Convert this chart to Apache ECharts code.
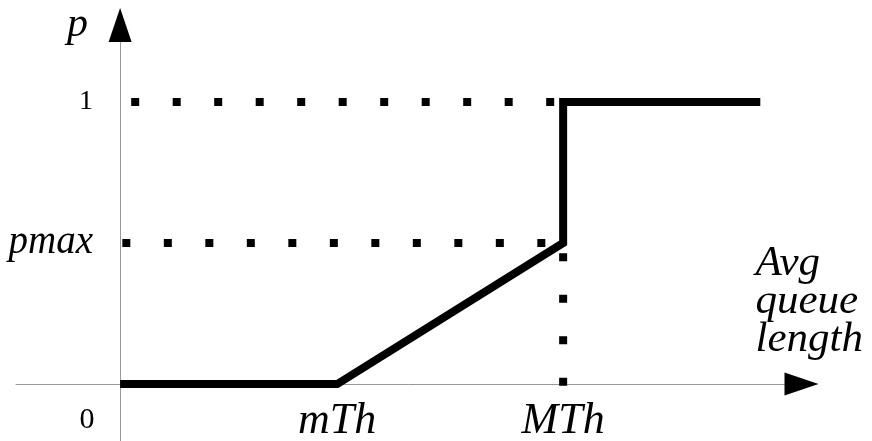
<!DOCTYPE html>
<html>
<head>
<meta charset="utf-8">
<script src="https://cdn.jsdelivr.net/npm/echarts@6/dist/echarts.min.js"></script>
<style>
  html, body { margin: 0; padding: 0; background: #fff; }
  #chart { width: 872px; height: 441px; }
</style>
</head>
<body>
<div id="chart"></div>
<script>
// drop probability vs. average queue length
const mTh = 4.9;
const MTh = 10;
const qEnd = 14.45;
const pMax = 0.5;
const pTop = 1;

const curveX = [0, mTh, MTh, MTh, qEnd];
const curveY = [0, 0, pMax, pTop, pTop];

// dotted guide lines
const guideTop = [[0.25, pTop], [MTh, pTop]];
const guidePmax = [[0.05, pMax], [MTh, pMax]];
const guideMTh = [[MTh, 0.464], [MTh, -0.01]];

const xRange = [-2.35, 15.38];
const yRange = [-0.202, 1.273];
const xTicks = [0, mTh, MTh];
const xTickLabels = ['{zero|0}', '{it|mTh}', '{it|MTh}'];
const yTicks = [pMax, pTop];
const yTickLabels = ['{pm|pmax}', '{num|1}'];

const mathFont = 'Liberation Serif';
const richStyles = {
    it: { fontFamily: mathFont, fontStyle: 'italic', fontSize: 44, color: '#000' },
    pm: { fontFamily: mathFont, fontStyle: 'italic', fontSize: 39, color: '#000' },
    num: { fontFamily: mathFont, fontSize: 28, color: '#000' },
    zero: { fontFamily: mathFont, fontSize: 30, color: '#000', padding: [6, 66, 0, 0] }
};

const chart = echarts.init(document.getElementById('chart'));

const dotted = {
    color: '#000',
    width: 8,
    type: [8, 33.5],
    cap: 'butt'
};

const option = {
    animation: false,
    backgroundColor: '#fff',
    grid: { left: 16, right: 70.5, top: 25, bottom: 0, containLabel: false, outerBoundsMode: 'none' },
    xAxis: {
        type: 'value',
        min: xRange[0],
        max: xRange[1],
        name: 'Avg\nqueue\nlength',
        nameLocation: 'end',
        nameGap: -46,
        nameTextStyle: {
            fontFamily: mathFont, fontStyle: 'italic', fontSize: 43, color: '#000',
            align: 'left', verticalAlign: 'bottom', lineHeight: 38, padding: [0, 0, 25, 0]
        },
        axisLine: { show: true, onZero: true, lineStyle: { color: '#999', width: 1 } },
        axisTick: { show: false },
        splitLine: { show: false },
        axisLabel: {
            customValues: xTicks,
            margin: -42,
            formatter: v => xTickLabels[xTicks.indexOf(v)],
            rich: richStyles
        }
    },
    yAxis: {
        type: 'value',
        min: yRange[0],
        max: yRange[1],
        name: 'p',
        nameLocation: 'end',
        nameGap: 0,
        nameTextStyle: {
            fontFamily: mathFont, fontStyle: 'italic', fontSize: 42, color: '#000',
            align: 'right', verticalAlign: 'middle', padding: [0, 32, 0, 0]
        },
        axisLine: { show: true, onZero: true, lineStyle: { color: '#999', width: 1 } },
        axisTick: { show: false },
        splitLine: { show: false },
        axisLabel: {
            customValues: yTicks,
            margin: -77,
            formatter: v => yTickLabels[yTicks.indexOf(v)],
            rich: richStyles
        }
    },
    series: [
        {
            type: 'line', data: guideTop, symbol: 'none', silent: true,
            lineStyle: dotted
        },
        {
            type: 'line', data: guidePmax, symbol: 'none', silent: true,
            lineStyle: dotted
        },
        {
            type: 'line', data: guideMTh, symbol: 'none', silent: true,
            lineStyle: dotted
        },
        {
            type: 'line',
            data: curveX.map((x, i) => [x, curveY[i]]),
            symbol: 'none',
            silent: true,
            lineStyle: { color: '#000', width: 8, cap: 'butt', join: 'miter' }
        },
        {
            // axis arrow heads
            type: 'scatter',
            clip: false,
            silent: true,
            symbol: 'triangle',
            symbolSize: [23, 34],
            itemStyle: { color: '#000', opacity: 1 },
            data: [
                { value: [xRange[1], 0], symbolRotate: -90 },
                { value: [0, yRange[1]], symbolRotate: 0 }
            ]
        }
    ]
};

chart.setOption(option);
</script>
</body>
</html>
